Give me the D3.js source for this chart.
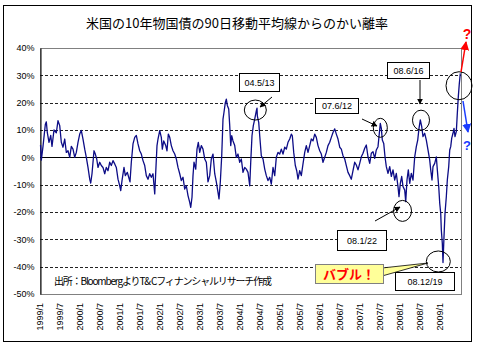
<!DOCTYPE html>
<meta charset="utf-8">
<style>
  body { margin: 0; background: #fff; }
  text { font-family: "Liberation Sans", Arial, sans-serif; }
  .jp { font-family: "Noto Sans CJK JP", sans-serif; }
</style>
<div id="chart"></div>
<script src="https://d3js.org/d3.v7.min.js"></script>
<script>

const years = [
  1999.013,1999.033,1999.075,1999.133,1999.158,1999.183,1999.225,1999.268,1999.300,1999.350,
  1999.408,1999.450,1999.493,1999.533,1999.575,1999.618,1999.658,1999.700,1999.743,1999.783,
  1999.825,1999.868,1999.908,1999.950,1999.993,2000.033,2000.075,2000.118,2000.158,2000.200,
  2000.243,2000.268,2000.300,2000.350,2000.383,2000.418,2000.450,2000.493,2000.533,2000.575,
  2000.618,2000.658,2000.700,2000.743,2000.783,2000.825,2000.868,2000.908,2000.950,2000.993,
  2001.018,2001.050,2001.100,2001.133,2001.183,2001.218,2001.250,2001.283,2001.325,2001.368,
  2001.408,2001.450,2001.493,2001.533,2001.575,2001.618,2001.658,2001.700,2001.743,2001.783,
  2001.825,2001.868,2001.893,2001.925,2001.950,2001.993,2002.033,2002.058,2002.093,2002.143,
  2002.175,2002.208,2002.243,2002.283,2002.325,2002.368,2002.408,2002.450,2002.493,2002.533,
  2002.575,2002.618,2002.658,2002.700,2002.743,2002.768,2002.800,2002.825,2002.850,2002.893,
  2002.925,2002.958,2002.993,2003.033,2003.075,2003.118,2003.158,2003.200,2003.243,2003.283,
  2003.325,2003.368,2003.408,2003.450,2003.475,2003.508,2003.543,2003.575,2003.600,2003.633,
  2003.658,2003.683,2003.718,2003.743,2003.768,2003.793,2003.825,2003.868,2003.908,2003.950,
  2003.993,2004.033,2004.075,2004.118,2004.158,2004.200,2004.243,2004.268,2004.300,2004.333,
  2004.368,2004.408,2004.425,2004.433,2004.468,2004.493,2004.533,2004.575,2004.618,2004.658,
  2004.700,2004.743,2004.783,2004.825,2004.868,2004.908,2004.950,2004.993,2005.033,2005.075,
  2005.118,2005.158,2005.200,2005.243,2005.283,2005.308,2005.343,2005.383,2005.418,2005.450,
  2005.493,2005.533,2005.575,2005.618,2005.658,2005.700,2005.743,2005.783,2005.825,2005.868,
  2005.908,2005.950,2005.993,2006.033,2006.075,2006.118,2006.158,2006.200,2006.243,2006.283,
  2006.325,2006.368,2006.408,2006.450,2006.493,2006.533,2006.575,2006.618,2006.658,2006.700,
  2006.743,2006.783,2006.825,2006.868,2006.908,2006.950,2006.993,2007.033,2007.075,2007.118,
  2007.158,2007.200,2007.243,2007.283,2007.325,2007.368,2007.408,2007.450,2007.475,2007.508,
  2007.533,2007.558,2007.593,2007.625,2007.658,2007.700,2007.743,2007.783,2007.825,2007.868,
  2007.908,2007.950,2007.975,2008.008,2008.043,2008.075,2008.118,2008.143,2008.175,2008.208,
  2008.243,2008.283,2008.325,2008.368,2008.408,2008.443,2008.475,2008.508,2008.543,2008.575,
  2008.618,2008.658,2008.700,2008.743,2008.768,2008.800,2008.825,2008.868,2008.908,2008.933,
  2008.968,2008.993,2009.018,2009.033,2009.058,2009.075,2009.100,2009.125,2009.158,2009.183,
  2009.218,2009.243,2009.268,2009.293,2009.325,2009.350,2009.375,2009.408,2009.433,2009.458,
  2009.483,2009.508
];
const pct = [
  4.5,-1,4,12,13,9,5.5,8,4,10,
  9,13.4,11.6,5.5,3.7,6.7,1.8,2.4,0,4,
  3,0,1.8,5.5,8.5,9.8,6.7,3,0,-3.7,
  -8,-9.4,-6,2.4,1.2,-0.6,-3.7,-1.8,-3,-3.7,
  -6,-3.7,-4.9,-1.8,-3,-1.2,-2.4,-3.7,-8,-10.4,
  -12.2,-8.5,-3.7,-6.7,-5.5,-7.3,-9,-1.8,4.9,7.3,
  8,4.9,2.4,1.2,-1.2,-3,-6.7,-8,-6,-7.3,
  -6,-13.4,-5.5,4.3,6.7,9.8,7.3,3,6,4.3,
  2.4,8.5,7.3,4.3,2.4,1.2,-0.6,-3.7,-6,-8.5,
  -7.3,-11.6,-10.4,-14,-16.5,-18.3,-14.6,-6.7,-1.8,-4.3,
  3,5.5,1.8,4.3,3,-0.6,-1.8,-9,-6.7,-0.6,
  1.2,-6,-9,-12.8,-15.2,-9,0.6,14,16.5,20,
  21.3,19,17.7,11.6,4.3,7.9,6,4.3,0,1.2,
  -1.8,-0.6,-5.5,-3.7,-4.3,-5.5,-10.4,-1.8,7.9,11.6,
  14,17,18,15.2,12.8,7.9,0.6,-0.6,-4.3,-6.7,
  -8.5,-7.3,-9.8,-3.7,-6.7,0,1.8,1.2,3,1.2,
  3.7,3,5.5,6.7,8.5,7.9,1.8,-3,-4.9,-8,
  -4.9,-6.7,-2.4,1.8,4.3,1.8,4.3,6.7,6,8.5,
  7.3,4.3,2.4,1.2,-1.8,0,1.8,4.3,5.5,7.3,
  9.1,10.4,8.5,6.7,3.7,3,0.6,-0.6,-3,-5.5,
  -6.7,-8,-4.9,-1.8,-2.8,-4.6,-2.2,0.2,1.5,3.3,
  4.5,0.2,-2.2,1.5,2.1,-0.4,2.7,3.9,7.6,12.4,
  10.6,6.3,5.1,0.2,-3.4,-5.9,-3.4,-7,-4.6,-8.3,
  -5.9,-10.7,-14.4,-9.5,-7,-10.7,-12,-16.2,-8.3,-4.6,
  -9.5,-5.9,-8.3,0.2,3.9,6.3,10.6,13.7,11.2,7.6,
  8.8,6.3,2.7,-1,-4.6,-8.3,-3.4,-2.2,0.2,-4.6,
  -10.7,-16.8,-20.5,-26.6,-31.5,-38.5,-29,-20.5,-14.4,-8.3,
  -3.4,2.7,3.9,7,8.8,10.6,7.6,9.4,16.1,22.2,
  27,30.7
];

const yTicks = [40, 30, 20, 10, 0, -10, -20, -30, -40, -50];
const xTickYears = [1999,1999.5,2000,2000.5,2001,2001.5,2002,2002.5,2003,2003.5,2004,
  2004.5,2005,2005.5,2006,2006.5,2007,2007.5,2008,2008.5,2009];
const xTickLabels = ["1999/1","1999/7","2000/1","2000/7","2001/1","2001/7","2002/1","2002/7",
  "2003/1","2003/7","2004/1","2004/7","2005/1","2005/7","2006/1","2006/7","2007/1","2007/7",
  "2008/1","2008/7","2009/1"];

// marked dates: circle centre (year, %)
const markYears = [2004.383, 2007.508, 2008.525, 2009.475, 2008.063, 2008.958];
const markPct   = [17.3, 10.8, 13.6, 26.2, -19.6, -38.1];
const markR     = [[11,10],[7,9.5],[8.5,10],[13,14],[9,10.5],[12,10.5]];

const title = "米国の10年物国債の90日移動平均線からのかい離率";
const source = "出所：BloombergよりT& Cフィナンシャルリサーチ作成";

let width = 478, height = 351;
let plot = {left: 40, right: 461, top: 48, bottom: 294};

let svg = d3.select("#chart").append("svg")
  .attr("width", width)
  .attr("height", height);

// outer frame
svg.append("rect")
  .attr("x", 3.5).attr("y", 5.5)
  .attr("width", 468).attr("height", 336)
  .attr("fill", "#fff").attr("stroke", "#000");

let x = d3.scaleLinear().domain([1999, 2009.525]).range([plot.left, plot.right]);
let y = d3.scaleLinear().domain([-50, 40]).range([plot.bottom, plot.top]);

// plot area
svg.append("rect")
  .attr("x", plot.left + 0.5).attr("y", plot.top + 0.5)
  .attr("width", plot.right - plot.left).attr("height", plot.bottom - plot.top)
  .attr("fill", "#fff").attr("stroke", "#808080");

// gridlines
svg.append("g")
  .selectAll("line")
  .data(yTicks.filter(d => d !== 0 && d !== 40 && d !== -50))
  .join("line")
    .attr("x1", plot.left).attr("x2", plot.right)
    .attr("y1", d => Math.round(y(d)) + 0.5).attr("y2", d => Math.round(y(d)) + 0.5)
    .attr("stroke", "#222").attr("stroke-dasharray", "3,2");

// y axis
let yAxis = svg.append("g")
  .attr("transform", "translate(" + (plot.left + 0.5) + ",0)")
  .call(d3.axisLeft(y).tickValues(yTicks).tickSize(0).tickPadding(6).tickFormat(d => d + "%"));
yAxis.select(".domain").attr("stroke", "#000");
yAxis.selectAll("text").attr("font-size", 9).attr("fill", "#000")
  .attr("font-family", "Liberation Sans, Arial, sans-serif");

// zero line
svg.append("line")
  .attr("x1", plot.left).attr("x2", plot.right)
  .attr("y1", Math.round(y(0)) + 0.5).attr("y2", Math.round(y(0)) + 0.5)
  .attr("stroke", "#000");

// x labels
svg.append("g")
  .selectAll("text")
  .data(xTickYears)
  .join("text")
    .attr("transform", d => "translate(" + x(d) + "," + 303 + ") rotate(-90)")
    .attr("text-anchor", "end")
    .attr("dy", "0.35em")
    .attr("font-size", 9)
    .text((d, i) => xTickLabels[i]);

// series
let series = years.map((d, i) => [d, pct[i]]);
svg.append("path")
  .datum(series)
  .attr("fill", "none")
  .attr("stroke", "#0c0c86")
  .attr("stroke-width", 1.3)
  .attr("stroke-linejoin", "round")
  .attr("d", d3.line().x(d => x(d[0])).y(d => y(d[1])));

// title
svg.append("text")
  .attr("class", "jp")
  .attr("x", 237).attr("y", 28)
  .attr("text-anchor", "middle")
  .attr("font-size", 13)
  .text(title);

// source
svg.append("text")
  .attr("class", "jp")
  .attr("x", 54).attr("y", 285)
  .attr("font-size", 10)
  .attr("textLength", 218)
  .text(source);

// arrow markers
let defs = svg.append("defs");
[["ahBlack", "#000"], ["ahRed", "#ff0000"], ["ahBlue", "#1a3cff"]].forEach(m => {
  defs.append("marker")
    .attr("id", m[0])
    .attr("viewBox", "0 0 10 10")
    .attr("refX", 9).attr("refY", 5)
    .attr("markerWidth", 6).attr("markerHeight", 6)
    .attr("orient", "auto")
    .append("path").attr("d", "M0,0 L10,5 L0,10 z").attr("fill", m[1]);
});

// circles
svg.append("g")
  .selectAll("ellipse")
  .data(markYears)
  .join("ellipse")
    .attr("cx", d => x(d))
    .attr("cy", (d, i) => y(markPct[i]))
    .attr("rx", (d, i) => markR[i][0])
    .attr("ry", (d, i) => markR[i][1])
    .attr("fill", "none")
    .attr("stroke", "#000");

// arrows
let arrows = [
  [272, 97, 260, 107, "ahBlack", "#000"],
  [362, 119, 377, 126, "ahBlack", "#000"],
  [420, 80, 420, 104, "ahBlack", "#000"],
  [375, 221, 400, 207, "ahBlack", "#000"],
  [461, 72, 466, 42, "ahRed", "#ff0000"],
  [463, 101, 468, 132, "ahBlue", "#1a3cff"]
];
svg.append("g")
  .selectAll("line")
  .data(arrows)
  .join("line")
    .attr("x1", d => d[0]).attr("y1", d => d[1])
    .attr("x2", d => d[2]).attr("y2", d => d[3])
    .attr("stroke", d => d[5])
    .attr("stroke-width", d => d[5] === "#000" ? 1 : 1.5)
    .attr("marker-end", d => "url(#" + d[4] + ")");

// label boxes
let boxes = [
  ["04.5/13", 239.5, 73.5, 40, 18],
  ["07.6/12", 315.5, 98.5, 43, 15],
  ["08.6/16", 387.5, 62.5, 42, 16],
  ["08.1/22", 337.5, 230.5, 49, 20],
  ["08.12/19", 395.5, 272.5, 59, 18]
];
let bg = svg.append("g").selectAll("g").data(boxes).join("g");
bg.append("rect")
  .attr("x", d => d[1]).attr("y", d => d[2])
  .attr("width", d => d[3]).attr("height", d => d[4])
  .attr("fill", "#fff").attr("stroke", "#000");
bg.append("text")
  .attr("x", d => d[1] + d[3] / 2).attr("y", d => d[2] + d[4] / 2)
  .attr("dy", "0.35em")
  .attr("text-anchor", "middle")
  .attr("font-size", 9)
  .text(d => d[0]);

// bubble callout
svg.append("path")
  .attr("d", "M382,268 L428,263 L382,276 Z")
  .attr("fill", "#ffff99").attr("stroke", "#000").attr("stroke-width", 0.8);
svg.append("rect")
  .attr("x", 315.5).attr("y", 264.5).attr("width", 68).attr("height", 19)
  .attr("fill", "#ffff99").attr("stroke", "#808080");
svg.append("text")
  .attr("class", "jp")
  .attr("x", 349).attr("y", 274).attr("dy", "0.36em")
  .attr("text-anchor", "middle")
  .attr("font-size", 13).attr("font-weight", "bold")
  .attr("fill", "#ff0000")
  .text("バブル！");

// question marks
svg.append("text")
  .attr("x", 467).attr("y", 39)
  .attr("text-anchor", "middle")
  .attr("font-size", 14).attr("font-weight", "bold")
  .attr("fill", "#ff0000")
  .text("?");
svg.append("text")
  .attr("x", 467).attr("y", 150)
  .attr("text-anchor", "middle")
  .attr("font-size", 13).attr("font-weight", "bold")
  .attr("fill", "#1a3cff")
  .text("?");

</script>
